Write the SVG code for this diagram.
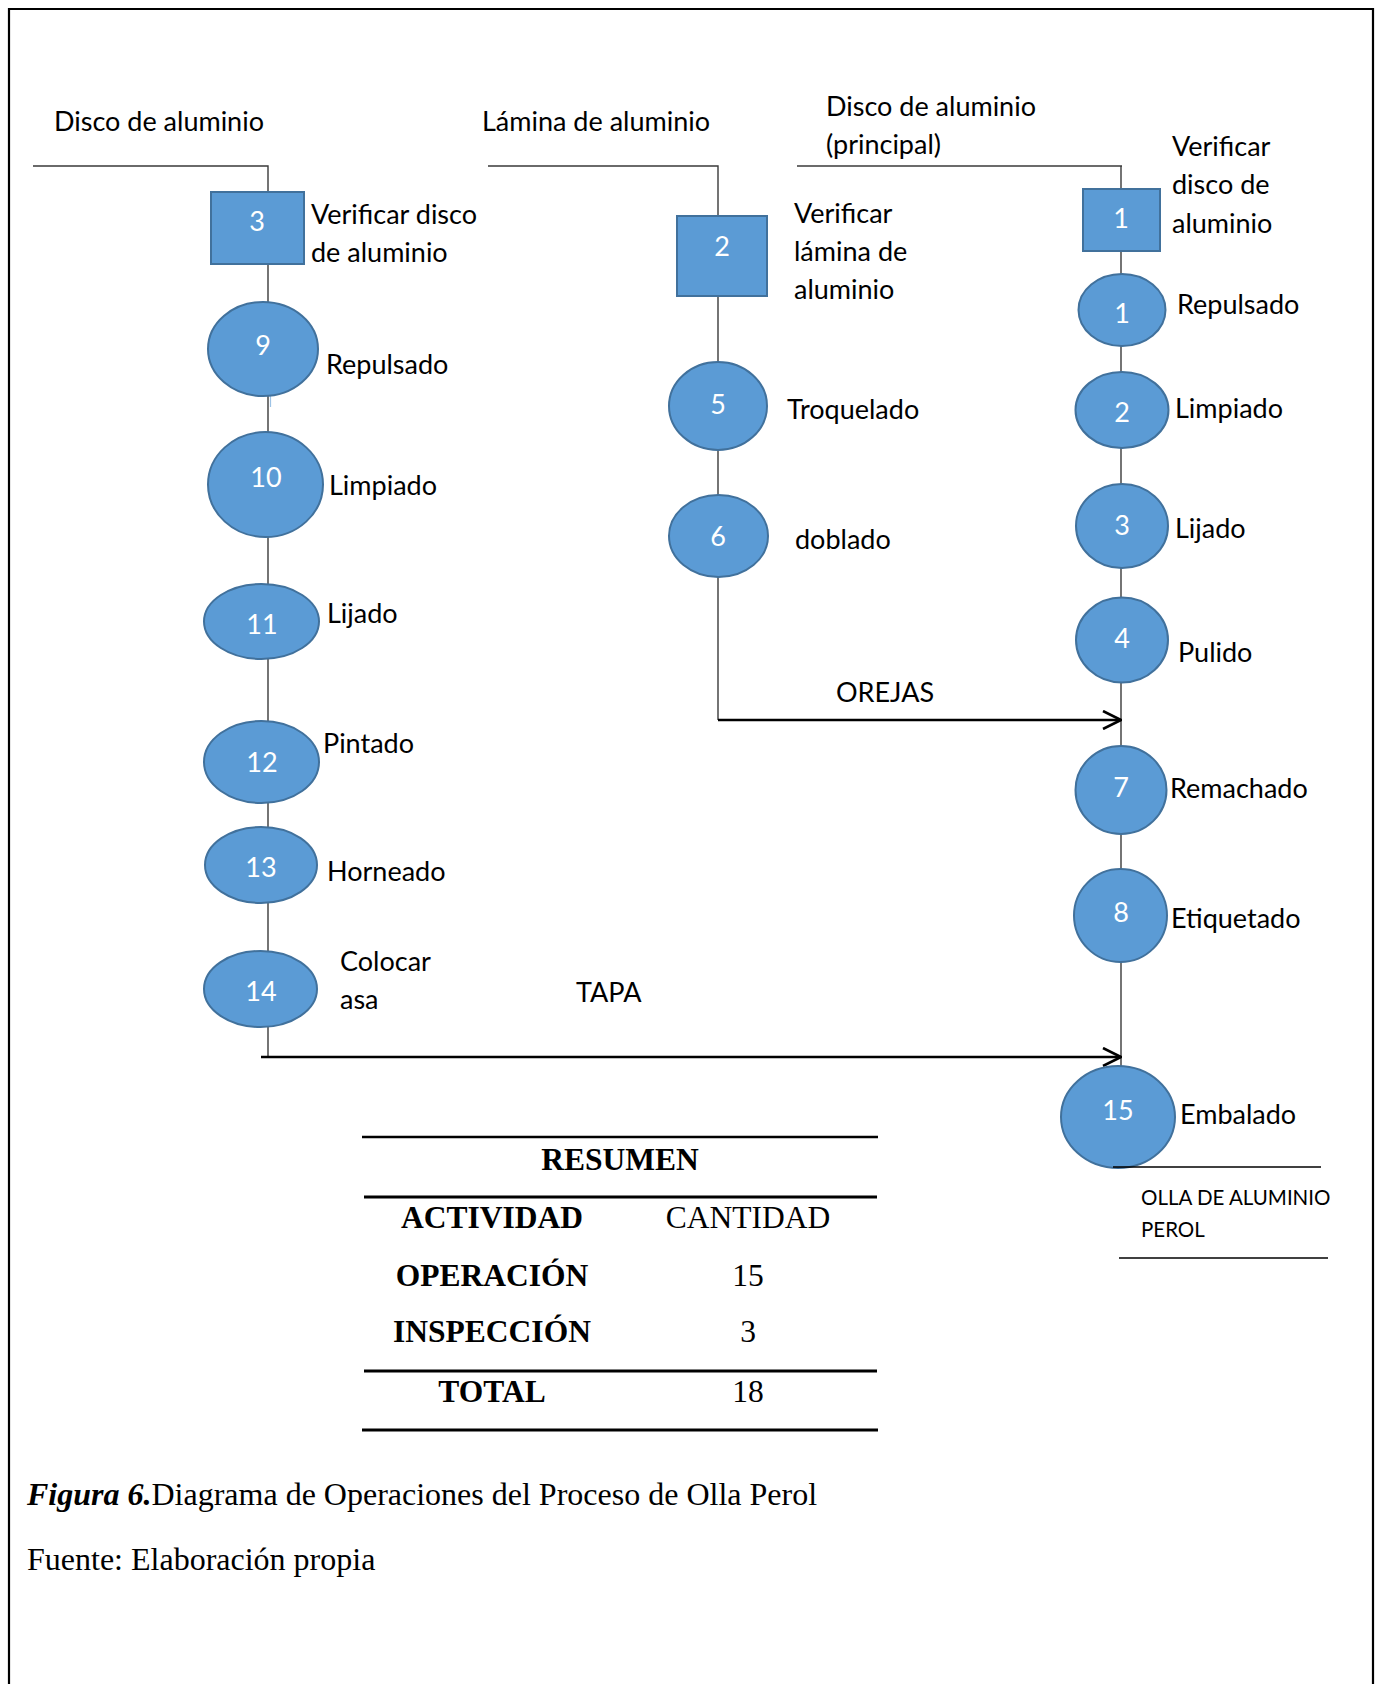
<svg xmlns="http://www.w3.org/2000/svg" width="1381" height="1684" viewBox="0 0 1381 1684">
  <style>
    .op { fill: #5B9BD5; stroke: #41719C; stroke-width: 2; }
    .num { font-family: Lato, "Open Sans", sans-serif; font-size: 27px; fill: #ffffff; text-anchor: middle; }
    .lbl { font-family: Lato, "Open Sans", sans-serif; font-size: 27px; fill: #000000; }
    .small { font-family: Lato, "Open Sans", sans-serif; font-size: 20.5px; fill: #000000; }
    .flow { stroke: #3a3a3a; stroke-width: 1.4; fill: none; }
    .arrow { stroke: #000000; stroke-width: 2.6; fill: none; }
    .rule { stroke: #000000; fill: none; }
    .tb { font-family: "Liberation Serif", "Times New Roman", serif; font-size: 31.5px; fill: #000000; text-anchor: middle; }
    .bold { font-weight: bold; }
    .cap { font-family: "Liberation Serif", "Times New Roman", serif; font-size: 32px; fill: #000000; }
  </style>
  <defs>
    <marker id="chevron" viewBox="0 0 20 20" refX="19" refY="10" markerWidth="20" markerHeight="20" markerUnits="userSpaceOnUse" orient="auto">
      <path d="M1,1 L19,10 L1,19" fill="none" stroke="#000000" stroke-width="2.6"/>
    </marker>
  </defs>

  <rect width="1381" height="1684" fill="#ffffff"/>
  <!-- page frame, open at the bottom -->
  <path d="M9,1684 V9 H1373 V1684" fill="none" stroke="#000000" stroke-width="2.2"/>

  <!-- connectors -->
  <g id="connectors">
    <!-- left line: Disco de aluminio -->
    <path class="flow" d="M33,166 H268 V192"/>
    <path class="flow" d="M268,264 V302"/>
    <path class="flow" d="M268,396 V432"/>
    <path d="M270.5,394 V407" stroke="#9DC3E6" stroke-width="1.2"/>
    <path class="flow" d="M268,537 V584"/>
    <path class="flow" d="M268,659 V721"/>
    <path class="flow" d="M268,803 V827"/>
    <path class="flow" d="M268,903 V951"/>
    <path class="flow" d="M268,1027 V1058"/>
    <!-- middle line: Lámina de aluminio -->
    <path class="flow" d="M488,166 H718 V216"/>
    <path class="flow" d="M718,296 V362"/>
    <path class="flow" d="M718,450 V495"/>
    <path class="flow" d="M718,577 V720"/>
    <!-- right line: Disco de aluminio (principal) -->
    <path class="flow" d="M797,166 H1122"/>
    <path class="flow" d="M1121,166 V189"/>
    <path class="flow" d="M1121,251 V274"/>
    <path class="flow" d="M1121,346 V372"/>
    <path class="flow" d="M1121,448 V484"/>
    <path class="flow" d="M1121,568 V598"/>
    <path class="flow" d="M1121,682 V746"/>
    <path class="flow" d="M1121,834 V869"/>
    <path class="flow" d="M1121,962 V1066"/>
    <!-- joining arrows -->
    <path class="arrow" d="M718,720 H1121" marker-end="url(#chevron)"/>
    <path class="arrow" d="M261,1057 H1121" marker-end="url(#chevron)"/>
  </g>

  <!-- flow labels and material headings -->
  <g id="headings">
    <text class="lbl" x="54" y="131">Disco de aluminio</text>
    <text class="lbl" x="482" y="131">Lámina de aluminio</text>
    <text class="lbl" x="826" y="116">Disco de aluminio</text>
    <text class="lbl" x="826" y="154">(principal)</text>
    <text class="lbl" x="836" y="702">OREJAS</text>
    <text class="lbl" x="576" y="1002">TAPA</text>
  </g>

  <!-- left column -->
  <g id="insp-3">
    <rect class="op" x="211" y="192" width="93" height="72"/>
    <text class="num" x="257" y="231">3</text>
    <text class="lbl" x="311" y="224">Verificar disco</text>
    <text class="lbl" x="311" y="262">de aluminio</text>
  </g>
  <g id="op-9">
    <ellipse class="op" cx="263" cy="349" rx="55" ry="47"/>
    <text class="num" x="263" y="355">9</text>
    <text class="lbl" x="326" y="374">Repulsado</text>
  </g>
  <g id="op-10">
    <ellipse class="op" cx="265.5" cy="484.5" rx="57.5" ry="52.5"/>
    <text class="num" x="266" y="487">10</text>
    <text class="lbl" x="329" y="495">Limpiado</text>
  </g>
  <g id="op-11">
    <ellipse class="op" cx="261.5" cy="621.5" rx="57.5" ry="37.5"/>
    <text class="num" x="262" y="634">11</text>
    <text class="lbl" x="327" y="623">Lijado</text>
  </g>
  <g id="op-12">
    <ellipse class="op" cx="261.5" cy="762" rx="57.5" ry="41"/>
    <text class="num" x="262" y="772">12</text>
    <text class="lbl" x="323" y="753">Pintado</text>
  </g>
  <g id="op-13">
    <ellipse class="op" cx="261" cy="865" rx="56" ry="38"/>
    <text class="num" x="261" y="877">13</text>
    <text class="lbl" x="327" y="881">Horneado</text>
  </g>
  <g id="op-14">
    <ellipse class="op" cx="260.5" cy="989" rx="56.5" ry="38"/>
    <text class="num" x="261" y="1001">14</text>
    <text class="lbl" x="340" y="971">Colocar</text>
    <text class="lbl" x="340" y="1009">asa</text>
  </g>

  <!-- middle column -->
  <g id="insp-2">
    <rect class="op" x="677" y="216" width="90" height="80"/>
    <text class="num" x="722" y="256">2</text>
    <text class="lbl" x="794" y="223">Verificar</text>
    <text class="lbl" x="794" y="261">lámina de</text>
    <text class="lbl" x="794" y="299">aluminio</text>
  </g>
  <g id="op-5">
    <ellipse class="op" cx="718" cy="406" rx="49" ry="44"/>
    <text class="num" x="718" y="414">5</text>
    <text class="lbl" x="787" y="419">Troquelado</text>
  </g>
  <g id="op-6">
    <ellipse class="op" cx="718.5" cy="536" rx="49.5" ry="41"/>
    <text class="num" x="718" y="546">6</text>
    <text class="lbl" x="795" y="549">doblado</text>
  </g>

  <!-- right column -->
  <g id="insp-1">
    <rect class="op" x="1083" y="189" width="77" height="62"/>
    <text class="num" x="1121" y="228">1</text>
    <text class="lbl" x="1172" y="156">Verificar</text>
    <text class="lbl" x="1172" y="194">disco de</text>
    <text class="lbl" x="1172" y="233">aluminio</text>
  </g>
  <g id="op-1">
    <ellipse class="op" cx="1122" cy="310" rx="43.5" ry="36"/>
    <text class="num" x="1122" y="323">1</text>
    <text class="lbl" x="1177" y="314">Repulsado</text>
  </g>
  <g id="op-2">
    <ellipse class="op" cx="1122" cy="410" rx="46.5" ry="38"/>
    <text class="num" x="1122" y="422">2</text>
    <text class="lbl" x="1175" y="418">Limpiado</text>
  </g>
  <g id="op-3">
    <ellipse class="op" cx="1122" cy="526" rx="46" ry="42"/>
    <text class="num" x="1122" y="535">3</text>
    <text class="lbl" x="1175" y="538">Lijado</text>
  </g>
  <g id="op-4">
    <ellipse class="op" cx="1122" cy="640" rx="46" ry="42.5"/>
    <text class="num" x="1122" y="648">4</text>
    <text class="lbl" x="1178" y="662">Pulido</text>
  </g>
  <g id="op-7">
    <ellipse class="op" cx="1121" cy="790" rx="45.5" ry="44"/>
    <text class="num" x="1121" y="797">7</text>
    <text class="lbl" x="1170" y="798">Remachado</text>
  </g>
  <g id="op-8">
    <ellipse class="op" cx="1120.5" cy="915.5" rx="46.5" ry="46.5"/>
    <text class="num" x="1121" y="922">8</text>
    <text class="lbl" x="1171" y="928">Etiquetado</text>
  </g>
  <g id="op-15">
    <ellipse class="op" cx="1118" cy="1117" rx="57" ry="51"/>
    <text class="num" x="1118" y="1120">15</text>
    <text class="lbl" x="1180" y="1124">Embalado</text>
  </g>

  <!-- finished product -->
  <g id="product">
    <line class="rule" x1="1113" y1="1167" x2="1321" y2="1167" stroke-width="1.3"/>
    <text class="small" x="1141" y="1205">OLLA DE ALUMINIO</text>
    <text class="small" x="1141" y="1237">PEROL</text>
    <line class="rule" x1="1119" y1="1258" x2="1328" y2="1258" stroke-width="1.3"/>
  </g>

  <!-- summary table -->
  <g id="summary">
    <line class="rule" x1="362" y1="1137" x2="878" y2="1137" stroke-width="2.4"/>
    <text class="tb bold" x="620" y="1170">RESUMEN</text>
    <line class="rule" x1="364" y1="1197" x2="877" y2="1197" stroke-width="3"/>
    <text class="tb bold" x="492" y="1228">ACTIVIDAD</text>
    <text class="tb" x="748" y="1228">CANTIDAD</text>
    <text class="tb bold" x="492" y="1286">OPERACIÓN</text>
    <text class="tb" x="748" y="1286">15</text>
    <text class="tb bold" x="492" y="1342">INSPECCIÓN</text>
    <text class="tb" x="748" y="1342">3</text>
    <line class="rule" x1="364" y1="1371" x2="877" y2="1371" stroke-width="3"/>
    <text class="tb bold" x="492" y="1402">TOTAL</text>
    <text class="tb" x="748" y="1402">18</text>
    <line class="rule" x1="362" y1="1430" x2="878" y2="1430" stroke-width="3"/>
  </g>

  <!-- caption -->
  <g id="caption">
    <text class="cap" x="27" y="1505"><tspan font-weight="bold" font-style="italic">Figura 6.</tspan>Diagrama de Operaciones del Proceso de Olla Perol</text>
    <text class="cap" x="27" y="1570">Fuente: Elaboración propia</text>
  </g>
</svg>
